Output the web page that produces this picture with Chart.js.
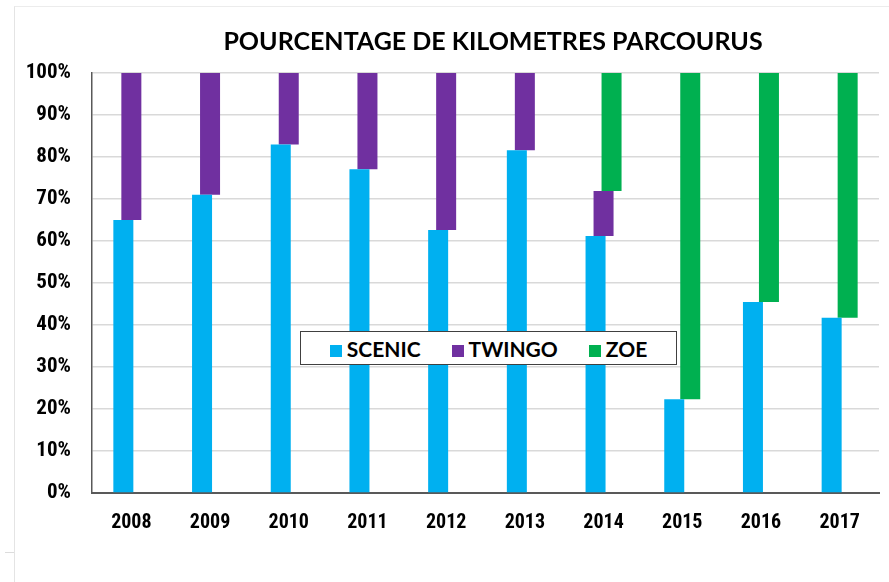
<!DOCTYPE html>
<html>
<head>
<meta charset="utf-8">
<script src="https://cdn.jsdelivr.net/npm/chart.js@4.4.1/dist/chart.umd.min.js"></script>
<style>
  html, body { margin: 0; padding: 0; background: #fff; }
  #wrap { position: relative; width: 889px; height: 582px; overflow: hidden; }
  #frame {
    position: absolute; left: 14px; top: 6px; right: -2px; bottom: -2px;
    border-left: 1.5px solid #e4e4e4; border-top: 1.5px solid #ececec;
  }
  #tick { position: absolute; left: 5px; top: 552px; width: 9px; border-top: 1px solid #dcdcdc; }
  #c { position: absolute; left: 0; top: 0; }
  #legend {
    position: absolute; left: 300px; top: 331px; width: 375px; height: 32px;
    border: 1.5px solid #404040; background: #fff;
    display: flex; align-items: center; justify-content: center; gap: 31px;
    font: bold 21px Lato, sans-serif; color: #000;
  }
  #legend span.box { display: inline-block; width: 12px; height: 12px; margin-right: 5px; vertical-align: 0px; }
</style>
</head>
<body>
<div id="wrap">
  <div id="frame"></div>
  <div id="tick"></div>
  <canvas id="c" width="889" height="582"></canvas>
  <div id="legend"></div>
</div>
<script>
// données (% des km parcourus)
const years = ['2008','2009','2010','2011','2012','2013','2014','2015','2016','2017'];
const scenic = [65.0, 71.0, 83.0, 77.1, 62.6, 81.6, 61.2, 22.3, 45.5, 41.7];
const twingo = [35.0, 29.0, 17.0, 22.9, 37.4, 18.4, 10.7, 0, 0, 0];
const zoe    = [0, 0, 0, 0, 0, 0, 28.1, 77.7, 54.5, 58.3];
const yTicks = [0,10,20,30,40,50,60,70,80,90,100];

const colors = { scenic:'#00B0F0', twingo:'#7030A0', zoe:'#00B050' };
const TICKFONT = "'Roboto Condensed', 'DejaVu Sans Condensed', sans-serif";

// barres flottantes décalées (empilement "en escalier")
const rng = (base, vals) => vals.map((v, i) => v > 0 ? [base[i], base[i] + v] : null);
const zero = years.map(() => 0);
const s1 = scenic.slice();
const s2 = scenic.map((v, i) => v + twingo[i]);

const datasets = [
  { label:'SCENIC', data: rng(zero, scenic), backgroundColor: colors.scenic },
  { label:'TWINGO', data: rng(s1, twingo), backgroundColor: colors.twingo },
  { label:'ZOE',    data: rng(s2, zoe),    backgroundColor: colors.zoe }
];

// titre dessiné à la main pour le centrer comme l'original
const titlePlugin = {
  id:'titre',
  afterDraw(chart) {
    const ctx = chart.ctx;
    ctx.save();
    ctx.font = 'bold 25px Lato, sans-serif';
    ctx.fillStyle = '#000';
    ctx.textAlign = 'center';
    ctx.textBaseline = 'middle';
    ctx.fillText('POURCENTAGE DE KILOMETRES PARCOURUS', 493, 42);
    ctx.restore();
  }
};

const chart = new Chart(document.getElementById('c'), {
  type:'bar',
  data:{ labels: years, datasets },
  plugins:[titlePlugin],
  options:{
    responsive:false,
    animation:false,
    devicePixelRatio:1,
    layout:{ padding:{ left:0, right:10, top:73, bottom:0 } },
    datasets:{ bar:{ categoryPercentage:0.305, barPercentage:2.5, grouped:true } },
    scales:{
      x:{
        grid:{ display:false },
        border:{ color:'#595959', width:2 },
        ticks:{ color:'#000', font:{ family:TICKFONT, size:20, weight:'bold' }, padding:10, maxRotation:0 },
        afterFit: s => { s.height = 89; }
      },
      y:{
        min:0, max:100,
        afterBuildTicks: s => { s.ticks = yTicks.map(v => ({ value:v })); },
        grid:{ color:'#d9d9d9', lineWidth:1.5, drawTicks:false },
        border:{ color:'#595959', width:1.5 },
        ticks:{ color:'#000', font:{ family:TICKFONT, size:21, weight:'bold' }, padding:21, callback: v => v + '%' },
        afterFit: s => { s.width = 92; }
      }
    },
    plugins:{
      legend:{ display:false },
      tooltip:{ enabled:false },
      title:{ display:false }
    }
  }
});

// légende HTML au milieu du graphique
const legend = document.getElementById('legend');
datasets.forEach(d => {
  const item = document.createElement('div');
  item.innerHTML = `<span class="box" style="background:${d.backgroundColor}"></span>${d.label}`;
  legend.appendChild(item);
});
</script>
</body>
</html>
